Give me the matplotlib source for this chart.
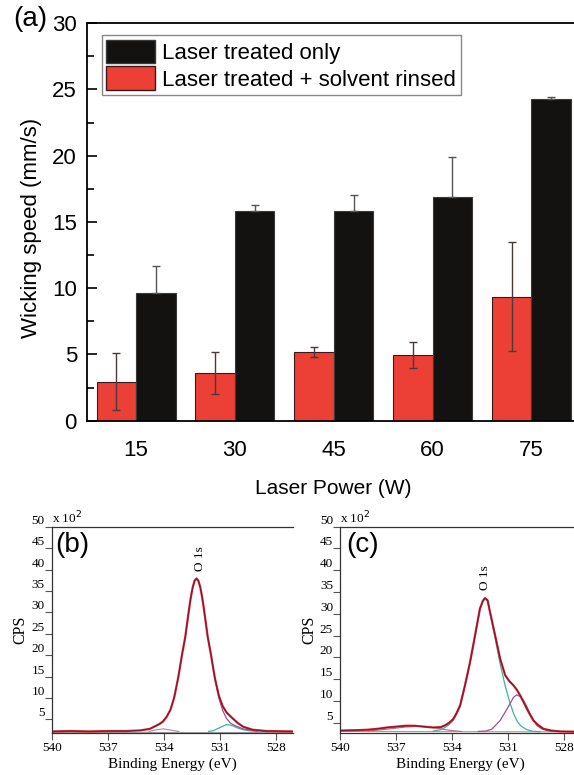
import matplotlib
matplotlib.use('Agg')
import matplotlib.pyplot as plt
from matplotlib.patches import Patch

plt.rcParams['font.family'] = ['Liberation Sans', 'DejaVu Sans']

# (a) wicking speed
power = [15, 30, 45, 60, 75]
rinsed = [2.95, 3.6, 5.15, 4.95, 9.35]
rinsed_err = [2.15, 1.6, 0.38, 1.0, 4.1]
treated = [9.6, 15.8, 15.85, 16.9, 24.3]
treated_err = [2.05, 0.5, 1.2, 3.0, 0.12]

# (b) O 1s spectrum, laser treated only (counts x 10^2)
be_b = [540, 539, 538, 537, 536, 535.25, 534.75, 534.25, 534.05, 533.85, 533.65,
        533.45, 533.25, 533.15, 533.03, 532.85, 532.75, 532.65, 532.55, 532.45,
        532.35, 532.25, 532.15, 532.05, 531.95, 531.85, 531.75, 531.65, 531.47,
        531.35, 531.25, 531.05, 530.85, 530.65, 530.45, 530.25, 530.05, 529.75,
        529.25, 528.5, 527]
env_b = [2.2, 2.3, 2.2, 2.3, 2.3, 2.45, 2.8, 3.9, 4.5, 5.6, 7.2,
         10.0, 14.3, 16.8, 20.0, 24.3, 27.5, 30.7, 33.6, 35.9,
         37.4, 37.9, 37.4, 35.9, 33.6, 30.7, 27.5, 24.3, 20.0,
         16.8, 14.3, 10.5, 8.1, 6.7, 5.8, 5.0, 4.2, 3.3,
         2.6, 2.3, 2.2]
main_e_b = [531.25, 531.05, 530.85, 530.65, 530.45, 530.25, 530.05, 529.75, 529.25, 528.5]
main_v_b = [14.3, 10.0, 7.1, 5.3, 4.2, 3.7, 3.3, 2.8, 2.45, 2.2]
cyan_e_b = [531.6, 531.35, 531.05, 530.85, 530.65, 530.45, 530.25, 530.05, 529.75, 529.4, 529.0]
cyan_v_b = [2.2, 2.4, 3.0, 3.4, 3.8, 3.7, 3.4, 3.0, 2.6, 2.35, 2.2]
bump_e_b = [534.8, 534.4, 534.0, 533.6, 533.2]
bump_v_b = [2.2, 2.6, 2.8, 2.5, 2.2]
bg_b = [2.1, 2.1]

# (c) O 1s spectrum, laser treated + solvent rinsed
be_c = [540, 539, 538.5, 538, 537.5, 537, 536.5, 536, 535.5, 535, 534.6, 534.38,
        534.15, 533.93, 533.75, 533.57, 533.31, 533.04, 532.77, 532.51, 532.35,
        532.24, 532.1, 531.97, 531.7, 531.43, 531.16, 530.95, 530.72, 530.54,
        530.36, 530.18, 530.0, 529.82, 529.65, 529.4, 529.11, 528.7, 528.2, 527]
env_c = [3.2, 3.3, 3.4, 3.6, 3.9, 4.1, 4.3, 4.3, 4.1, 3.9, 4.0, 4.4,
         5.0, 5.9, 7.3, 9.0, 13.6, 18.9, 25.1, 31.2, 33.0,
         33.6, 33.1, 30.4, 25.1, 19.7, 15.9, 14.6, 13.6, 12.6,
         11.3, 9.8, 8.2, 6.8, 5.5, 4.5, 3.6, 3.2, 3.0, 2.9]
cyan_e_c = [535.0, 534.6, 534.38, 534.15, 533.93, 533.75, 533.57, 533.31, 533.04,
            532.77, 532.51, 532.35, 532.24, 532.1, 531.97, 531.7, 531.43, 531.16,
            530.9, 530.7, 530.5, 530.3, 530.0, 529.7, 529.3]
cyan_v_c = [3.1, 3.4, 3.9, 4.6, 5.6, 7.0, 8.7, 13.4, 18.7,
            24.9, 31.0, 32.9, 33.5, 33.0, 30.2, 24.5, 18.5, 13.5,
            9.5, 7.0, 5.2, 4.2, 3.4, 3.05, 2.95]
pur_e_c = [532.6, 532.2, 531.88, 531.43, 531.0, 530.72, 530.54, 530.36, 530.18,
           530.0, 529.82, 529.47, 529.2, 528.9, 528.5]
pur_v_c = [3.0, 3.1, 3.5, 5.5, 8.6, 10.8, 11.4, 11.0, 10.1,
           8.7, 7.0, 4.4, 3.6, 3.2, 3.0]
hump_e_c = [538.5, 537.5, 536.5, 535.8, 535.0, 534.2, 533.5]
hump_v_c = [3.1, 3.5, 4.0, 4.2, 3.9, 3.3, 3.0]
bg_c = [3.0, 2.9]

RED = '#ec3f35'
BLACK = '#141210'

fig = plt.figure(figsize=(5.74, 7.75), dpi=100)

# ---- panel (a)
ax = fig.add_axes([0.151, 0.4572, 0.861, 0.5129])
xr = [p - 3 for p in power]
xb = [p + 3 for p in power]
ax.bar(xr, rinsed, width=6, color=RED, edgecolor='#3a1a18', linewidth=0.8, zorder=2)
ax.bar(xb, treated, width=6, color=BLACK, edgecolor='#3a3a3a', linewidth=0.8, zorder=2)
ax.errorbar(xr, rinsed, yerr=rinsed_err, fmt='none', ecolor='#4a3a3a',
            elinewidth=1, capsize=3, capthick=1, zorder=3)
# only the upper half shows above the black bars
ax.errorbar(xb, treated, yerr=[[0] * len(treated), treated_err], fmt='none',
            ecolor='#555555', elinewidth=1, capsize=3, capthick=1, zorder=3)
ax.set_xlim(7.5, 82.5)
ax.set_ylim(0, 30)
ax.set_xticks(power)
ax.set_yticks([0, 5, 10, 15, 20, 25, 30])
ax.set_yticks([2.5, 7.5, 12.5, 17.5, 22.5, 27.5], minor=True)
ax.tick_params(axis='x', length=0, pad=14, labelsize=16)
ax.tick_params(axis='y', which='major', direction='in', length=7, width=1.2, pad=7, labelsize=16)
ax.tick_params(axis='y', which='minor', direction='in', length=5, width=1.2)
for s in ax.spines.values():
    s.set_linewidth(1.3)
ax.spines['right'].set_visible(False)

handles = [Patch(facecolor=BLACK, edgecolor='#3a3a3a', label='Laser treated only'),
           Patch(facecolor=RED, edgecolor='#3a1a18', label='Laser treated + solvent rinsed')]
leg = ax.legend(handles=handles, loc='upper left', bbox_to_anchor=(0.031, 0.970),
                borderaxespad=0, fontsize=16, fancybox=False, framealpha=1,
                edgecolor='#888888', handlelength=2.2, handleheight=1.25,
                handletextpad=0.32, labelspacing=0.12, borderpad=0.2)
leg.get_frame().set_linewidth(1.0)

fig.text(13 / 574, 1 - 6 / 775, '(a)', fontsize=20, ha='left', va='top')
fig.text(32 / 574, 1 - 228 / 775, 'Wicking speed (mm/s)', fontsize=16,
         rotation=90, ha='center', va='center')
fig.text(333 / 574, 1 - 488 / 775, 'Laser Power (W)', fontsize=15,
         ha='center', va='center')


# ---- panels (b) and (c)
def xps_axes(left, ylo, tag, tag_x):
    a = fig.add_axes([left, 0.0548, 0.4199, 0.2656])
    a.set_xlim(540, 527.1)
    a.set_ylim(ylo, 50)
    a.set_xticks([540, 537, 534, 531, 528])
    a.set_yticks(list(range(5, 55, 5)))
    a.tick_params(direction='out', length=5, width=0.8, color='#555555', labelsize=9.5)
    a.tick_params(axis='y', pad=0)
    a.tick_params(axis='x', pad=2)
    for lab in a.get_yticklabels():
        lab.set_family(['Liberation Serif'])
        lab.set_verticalalignment('bottom')
    for lab in a.get_xticklabels():
        lab.set_family(['Liberation Serif'])
    for s in a.spines.values():
        s.set_linewidth(0.9)
        s.set_color('#333333')
    a.spines['right'].set_visible(False)
    a.set_xlabel('Binding Energy (eV)', family=['Liberation Serif'], fontsize=11, labelpad=2)
    a.set_ylabel('CPS', family=['Liberation Serif'], fontsize=11.5, labelpad=2)
    a.text(0.0, 1.0, r'x 10$^2$', transform=a.transAxes, ha='left', va='bottom',
           family=['Liberation Serif'], fontsize=9.5)
    a.text(tag_x, 0.975, tag, transform=a.transAxes, ha='left', va='top', fontsize=20)
    return a


axb = xps_axes(51.7 / 574, 1.95, '(b)', 0.014)
axb.plot([540, 527], bg_b, color='#a0a0a0', lw=0.8)
axb.plot(bump_e_b, bump_v_b, color='#b08a95', lw=0.8)
axb.plot(cyan_e_b, cyan_v_b, color='#3fb0a8', lw=0.9)
axb.plot(main_e_b, main_v_b, color='#a0508a', lw=0.9)
axb.plot(be_b, env_b, color='#d42a35', lw=1.6)
axb.plot(be_b, env_b, color='#7a1535', lw=0.7)
axb.text(532.05, 39.6, 'O 1s', rotation=90, ha='center', va='bottom',
         family=['Liberation Serif'], fontsize=9.5)

axc = xps_axes(340 / 574, 2.75, '(c)', 0.024)
axc.plot([540, 527], bg_c, color='#a0a0a0', lw=0.8)
axc.plot(hump_e_c, hump_v_c, color='#b0707a', lw=0.8)
axc.plot(cyan_e_c, cyan_v_c, color='#3fb0a8', lw=0.9)
axc.plot(pur_e_c, pur_v_c, color='#a0508a', lw=0.9)
axc.plot(be_c, env_c, color='#d42a35', lw=1.6)
axc.plot(be_c, env_c, color='#7a1535', lw=0.7)
axc.text(532.25, 35.4, 'O 1s', rotation=90, ha='center', va='bottom',
         family=['Liberation Serif'], fontsize=9.5)

fig.savefig('out.png', dpi=100)
